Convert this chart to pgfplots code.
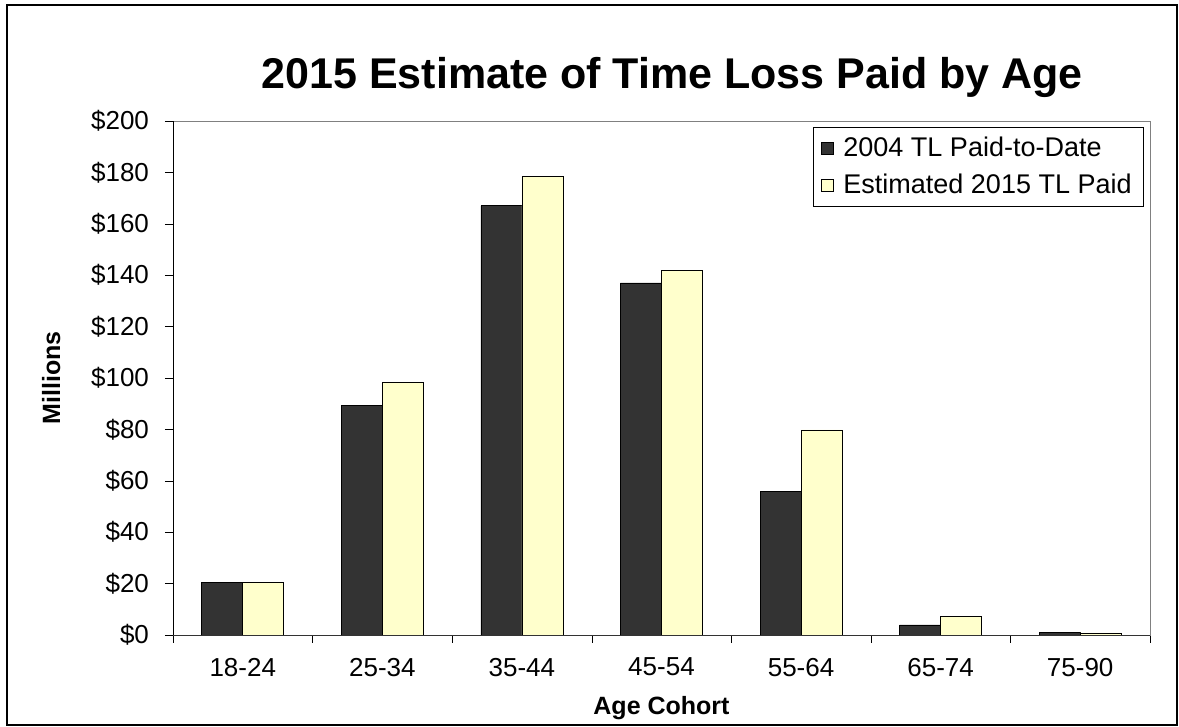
\documentclass[border=0pt]{standalone}
\usepackage{pgfplots}
\pgfplotsset{compat=1.18}
\usepackage{fontspec}
\setmainfont{Liberation Sans}
\definecolor{darkbar}{HTML}{333333}
\definecolor{lightbar}{HTML}{FFFFCC}
\begin{document}
\begin{tikzpicture}
\path (-86.5pt,-46pt) rectangle (503pt,317.5pt);
\draw[line width=1pt] (-83pt,-45pt) rectangle (502pt,315pt);
\begin{axis}[
    scale only axis,
    width=488.5pt, height=257pt,
    ybar=0pt, bar width=20.5pt,
    xmin=-0.5, xmax=6.5, ymin=0, ymax=200,
    axis line style={gray},
    xtick={0,...,6},
    xticklabels={18-24,25-34,35-44,45-54,55-64,65-74,75-90},
    major x tick style={draw=none},
    minor xtick={-0.5,0.5,...,6.5},
    minor x tick style={black},
    minor tick length=4pt,
    ytick={0,20,...,200},
    yticklabels={\$0,\$20,\$40,\$60,\$80,\$100,\$120,\$140,\$160,\$180,\$200},
    major tick length=4pt,
    y tick style={black},
    tick align=outside,
    xtick pos=bottom, ytick pos=left,
    tick label style={font=\fontsize{13}{15}\selectfont},
    xticklabel style={yshift=-4pt},
    yticklabel style={xshift=-4.5pt},
    xlabel={Age Cohort}, ylabel={Millions},
    xlabel style={font=\bfseries\fontsize{12.5}{15}\selectfont, at={(axis description cs:0.5,-0.142)}, anchor=center},
    ylabel style={font=\bfseries\fontsize{12.5}{15}\selectfont, at={(axis description cs:-0.1248,0.5)}, anchor=center},
    title={2015 Estimate of Time Loss Paid by Age},
    title style={font=\bfseries\fontsize{21.5}{26}\selectfont, at={(axis description cs:0.511,1.062)}, anchor=center},
    legend style={at={(axis description cs:0.9939,0.9883)}, anchor=north east, draw=black,
        font=\fontsize{13.5}{16}\selectfont, row sep=3pt, inner xsep=4pt, inner ysep=3pt},
    legend cell align=left,
    legend image code/.code={\draw[#1, draw=black] (0pt,-3pt) rectangle (6pt,3pt); \path[draw=none, fill=none] (0pt,0pt) -- (9pt,0pt);},
    clip=false,
]
\addplot[fill=darkbar, draw=black] coordinates {(0,20.5) (1,89.3) (2,167) (3,137) (4,56) (5,3.9) (6,1.0)};
\addplot[fill=lightbar, draw=black] coordinates {(0,20.5) (1,98.3) (2,178.5) (3,142) (4,79.8) (5,7.3) (6,0.8)};
\legend{2004 TL Paid-to-Date, Estimated 2015 TL Paid}
\draw[black] (rel axis cs:0,0) -- (rel axis cs:0,1);
\draw[black!80] (rel axis cs:0,0) -- (rel axis cs:1,0);
\end{axis}
\end{tikzpicture}
\end{document}
